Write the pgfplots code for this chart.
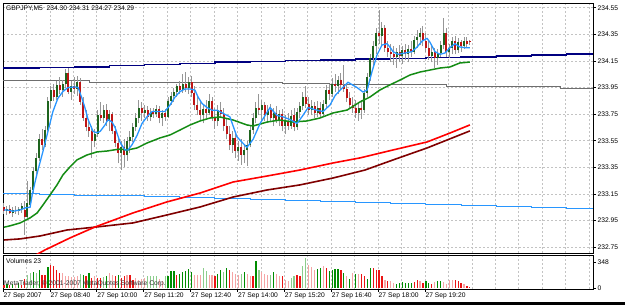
\documentclass[border=0pt]{standalone}
\usepackage{pgfplots}
\pgfplotsset{compat=1.18}
\usepackage{pgfplotstable}
\usepackage{fontspec}
\setmainfont{Liberation Sans}
\definecolor{bull}{RGB}{30,100,30}
\definecolor{bear}{RGB}{190,20,20}
\definecolor{wick}{RGB}{150,150,150}
\definecolor{fastblue}{RGB}{40,150,255}
\definecolor{slowgreen}{RGB}{20,140,20}
\definecolor{mared}{RGB}{255,0,0}
\definecolor{madark}{RGB}{128,0,0}
\definecolor{navyline}{RGB}{0,0,128}
\definecolor{grayline}{RGB}{110,110,110}
\definecolor{hblue}{RGB}{40,150,255}
\definecolor{gridc}{RGB}{195,195,195}
\definecolor{vgreen}{RGB}{0,140,0}
\definecolor{vlgreen}{RGB}{140,205,140}
\definecolor{vred}{RGB}{235,20,20}
\definecolor{vpink}{RGB}{245,165,165}
\newcommand{\mtfont}{\fontsize{6.7}{7.5}\selectfont}

\pgfplotstableread{
i o h l c
0 233.05 233.08 233.00 233.02
1 233.02 233.06 232.99 233.04
2 233.04 233.07 233.00 233.01
3 233.01 233.05 232.98 233.03
4 233.03 233.06 233.00 233.02
5 233.02 233.05 232.99 233.04
6 233.04 233.08 233.01 233.06
7 233.03 233.10 232.84 232.98
8 232.98 233.25 232.97 233.08
9 233.07 233.20 233.05 233.18
10 233.18 233.35 233.16 233.32
11 233.32 233.46 233.28 233.42
12 233.42 233.60 233.40 233.56
13 233.56 233.64 233.48 233.52
14 233.52 233.66 233.50 233.63
15 233.63 233.88 233.60 233.85
16 233.85 233.96 233.80 233.93
17 233.93 233.98 233.85 233.88
18 233.88 234.00 233.86 233.97
19 233.97 234.03 233.90 233.93
20 233.93 234.01 233.88 233.98
21 233.98 234.09 233.95 234.06
22 234.06 234.10 233.90 233.92
23 233.92 234.00 233.86 233.96
24 233.96 234.03 233.90 233.94
25 233.94 234.04 233.89 233.99
26 233.99 234.02 233.82 233.84
27 233.84 233.88 233.70 233.72
28 233.72 233.78 233.62 233.65
29 233.65 233.71 233.58 233.62
30 233.62 233.66 233.42 233.55
31 233.55 233.64 233.50 233.60
32 233.60 233.78 233.58 233.74
33 233.74 233.84 233.70 233.72
34 233.72 233.82 233.68 233.78
35 233.78 233.83 233.66 233.70
36 233.70 233.78 233.62 233.75
37 233.75 233.77 233.60 233.62
38 233.62 233.66 233.50 233.53
39 233.53 233.58 233.38 233.46
40 233.46 233.55 233.33 233.50
41 233.50 233.56 233.35 233.44
42 233.44 233.58 233.40 233.55
43 233.55 233.62 233.46 233.58
44 233.58 233.68 233.54 233.65
45 233.65 233.76 233.62 233.72
46 233.72 233.86 233.68 233.80
47 233.80 233.84 233.70 233.76
48 233.76 233.82 233.72 233.78
49 233.78 233.81 233.70 233.73
50 233.73 233.80 233.70 233.77
51 233.77 233.80 233.72 233.75
52 233.75 233.82 233.73 233.79
53 233.79 233.81 233.68 233.72
54 233.72 233.78 233.66 233.76
55 233.76 233.79 233.70 233.73
56 233.73 233.88 233.72 233.85
57 233.85 233.92 233.82 233.89
58 233.89 233.95 233.84 233.92
59 233.92 233.98 233.88 233.96
60 233.96 234.00 233.90 233.93
61 233.93 234.05 233.91 233.98
62 233.98 234.07 233.92 233.95
63 233.95 234.03 233.90 233.99
64 233.99 234.04 233.88 233.91
65 233.91 233.96 233.78 233.82
66 233.82 233.88 233.74 233.78
67 233.78 233.84 233.70 233.74
68 233.74 233.82 233.68 233.79
69 233.79 233.86 233.72 233.76
70 233.76 233.90 233.74 233.85
71 233.85 233.88 233.70 233.73
72 233.73 233.80 233.64 233.70
73 233.70 233.82 233.66 233.78
74 233.78 233.84 233.72 233.75
75 233.75 233.80 233.62 233.66
76 233.66 233.72 233.56 233.60
77 233.60 233.66 233.48 233.52
78 233.52 233.62 233.46 233.57
79 233.57 233.60 233.42 233.47
80 233.47 233.55 233.40 233.50
81 233.50 233.56 233.37 233.44
82 233.44 233.52 233.38 233.48
83 233.48 233.55 233.36 233.52
84 233.52 233.66 233.50 233.63
85 233.63 233.76 233.60 233.72
86 233.72 233.84 233.68 233.80
87 233.80 233.90 233.74 233.78
88 233.78 233.86 233.70 233.82
89 233.82 233.84 233.70 233.74
90 233.74 233.82 233.68 233.78
91 233.78 233.83 233.69 233.72
92 233.72 233.80 233.66 233.76
93 233.76 233.81 233.68 233.70
94 233.70 233.78 233.66 233.75
95 233.75 233.79 233.62 233.66
96 233.66 233.74 233.60 233.70
97 233.70 233.76 233.63 233.66
98 233.66 233.78 233.64 233.74
99 233.74 233.80 233.62 233.65
100 233.65 233.80 233.63 233.77
101 233.77 233.84 233.72 233.81
102 233.81 233.92 233.78 233.88
103 233.88 233.96 233.80 233.83
104 233.83 233.88 233.74 233.78
105 233.78 233.86 233.74 233.81
106 233.81 233.84 233.72 233.76
107 233.76 233.85 233.73 233.80
108 233.80 233.84 233.72 233.75
109 233.75 233.86 233.73 233.83
110 233.83 233.97 233.80 233.93
111 233.93 233.98 233.86 233.90
112 233.90 234.02 233.88 233.98
113 233.98 234.05 233.92 233.96
114 233.96 234.04 233.90 234.01
115 234.01 234.06 233.94 233.97
116 233.97 234.12 233.92 233.94
117 233.94 233.98 233.84 233.87
118 233.87 233.92 233.79 233.82
119 233.82 233.88 233.76 233.80
120 233.80 233.86 233.72 233.76
121 233.76 233.84 233.70 233.80
122 233.80 233.86 233.71 233.78
123 233.78 233.94 233.76 233.91
124 233.91 234.06 233.88 234.03
125 234.03 234.20 234.00 234.17
126 234.17 234.30 234.12 234.26
127 234.26 234.40 234.20 234.36
128 234.36 234.53 234.28 234.34
129 234.34 234.44 234.26 234.40
130 234.40 234.42 234.22 234.25
131 234.25 234.30 234.18 234.22
132 234.22 234.28 234.14 234.20
133 234.20 234.26 234.12 234.18
134 234.18 234.25 234.10 234.22
135 234.22 234.27 234.14 234.19
136 234.19 234.26 234.13 234.23
137 234.23 234.28 234.16 234.20
138 234.20 234.27 234.14 234.24
139 234.24 234.30 234.18 234.22
140 234.22 234.34 234.20 234.31
141 234.31 234.38 234.25 234.33
142 234.33 234.40 234.27 234.36
143 234.36 234.41 234.26 234.30
144 234.30 234.36 234.22 234.25
145 234.25 234.30 234.16 234.19
146 234.19 234.26 234.14 234.22
147 234.22 234.25 234.10 234.17
148 234.17 234.24 234.12 234.21
149 234.21 234.30 234.18 234.27
150 234.27 234.47 234.24 234.36
151 234.36 234.40 234.18 234.22
152 234.22 234.28 234.17 234.25
153 234.25 234.33 234.20 234.30
154 234.30 234.34 234.20 234.23
155 234.23 234.32 234.21 234.29
156 234.29 234.31 234.22 234.26
157 234.26 234.33 234.24 234.30
158 234.30 234.33 234.25 234.28
159 234.30 234.31 234.27 234.29
}\candles

\pgfplotstableread{
i p
0 233.03
1 233.03
3.1 233.02
5.5 233.03
7.2 233.045
8.9 233.05
9.6 233.14
10.6 233.24
11.6 233.33
13.3 233.47
15 233.62
16.7 233.77
18.4 233.87
20.1 233.92
21.8 233.95
24.2 233.955
25.3 233.95
26.6 233.87
27.6 233.80
28.7 233.71
30.4 233.62
31.7 233.61
32.8 233.62
34.5 233.67
35.5 233.71
36.9 233.69
37.9 233.65
39.6 233.54
41.3 233.48
42.3 233.48
43.7 233.52
45.4 233.59
47.1 233.68
48.8 233.73
50.5 233.77
52.2 233.77
54.9 233.77
56.7 233.82
58.4 233.88
60.1 233.92
61.8 233.94
63.5 233.94
65.2 233.93
66.2 233.88
67.6 233.83
69.3 233.80
71 233.78
72.7 233.78
74.4 233.76
77.1 233.73
79.5 233.58
82.9 233.50
85 233.56
87.4 233.68
90.8 233.80
93.2 233.74
95.2 233.73
97.6 233.71
100 233.68
102 233.74
103.8 233.80
106.8 233.78
108.9 233.77
111.3 233.82
113 233.89
114.7 233.93
117.4 233.99
120.5 233.95
122.5 233.917
123.9 233.93
125.6 234.07
127.3 234.195
129 234.27
130.7 234.28
131.7 234.255
132.8 234.22
134.5 234.20
136.9 234.21
139.2 234.22
141 234.255
142.7 234.30
144.4 234.32
145.4 234.29
147.1 234.22
148.8 234.20
150.5 234.21
152.2 234.25
153.9 234.28
155.6 234.255
157.3 234.25
159 234.25
}\mafast

\pgfplotstableread{
i p
0 232.90
2 232.91
5.5 232.932
8.9 232.97
11.3 233.007
13.3 233.067
15.7 233.142
18.1 233.218
20.1 233.293
22.5 233.353
24.9 233.406
28.3 233.443
31.7 233.466
35.2 233.473
37.2 233.48
39.6 233.488
42 233.48
45.4 233.496
48.8 233.533
53.2 233.571
56.7 233.594
60.1 233.631
63.5 233.669
66.9 233.699
70.3 233.721
73.7 233.729
78.2 233.706
82.9 233.669
85 233.661
89.8 233.691
94.2 233.706
98.6 233.691
103.4 233.699
107.8 233.721
112.3 233.759
117.1 233.781
121.5 233.842
124.9 233.879
128.3 233.932
131.7 233.97
135.2 234.007
138.6 234.045
142 234.067
145.4 234.082
148.8 234.097
152.2 234.105
155.6 234.135
159 234.142
}\mamid

\pgfplotstableread{
i p
0 232.56
14 232.729
22.5 232.819
31.1 232.902
44 233.007
55.6 233.09
66.9 233.157
78.2 233.24
89.8 233.285
101 233.33
112.3 233.383
121.5 233.421
132.8 233.481
144.4 233.541
152.2 233.608
159 233.669
}\maslow

\pgfplotstableread{
i p
0 232.804
5.5 232.812
12.3 232.834
21.5 232.879
31.7 232.902
44 232.932
55.6 232.992
66.9 233.052
78.2 233.127
89.8 233.18
101 233.218
112.3 233.27
123.2 233.33
132.8 233.406
144.4 233.496
159 233.624
}\maslowest

\pgfplotstableread{
i p
-0.34 233.150
12 233.145
24 233.140
36 233.135
48 233.128
60 233.122
72 233.115
84 233.108
96 233.100
108 233.093
120 233.086
132 233.078
144 233.070
156 233.063
168 233.056
180 233.048
192 233.040
201.02 233.040
}\hourblue

\pgfplotstableread{
i p
-0.34 234.097
12 234.100
24 234.105
36 234.115
48 234.124
60 234.133
72 234.142
84 234.146
96 234.152
108 234.158
120 234.164
132 234.170
144 234.175
156 234.180
168 234.186
180 234.194
192 234.202
201.02 234.202
}\hournavy

\pgfplotstableread{
i p
-0.34 234.000
29 233.992
77 233.985
95 233.978
111 233.970
151 233.962
172 233.955
190 233.947
201.02 233.947
}\hourgray

\pgfplotstableread{
i v k
0 45 2
1 60 0
2 40 2
3 55 0
4 50 3
5 65 0
6 45 2
7 120 2
8 178 1
9 200 1
10 215 0
11 200 1
12 236 0
13 178 2
14 178 2
15 281 0
16 312 2
17 300 2
18 245 2
19 200 2
20 200 3
21 165 3
22 156 3
23 147 3
24 147 3
25 156 3
26 192 1
27 178 0
28 156 2
29 200 0
30 134 2
31 156 3
32 134 2
33 134 2
34 147 1
35 156 0
36 200 3
37 178 3
38 165 2
39 178 0
40 134 2
41 156 2
42 178 3
43 178 2
44 111 2
45 134 3
46 111 3
47 120 3
48 134 3
49 156 1
50 156 1
51 165 1
52 165 1
53 120 3
54 89 3
55 156 1
56 156 0
57 223 0
58 223 0
59 178 2
60 192 0
61 210 0
62 223 0
63 254 0
64 210 0
65 178 3
66 178 3
67 178 3
68 268 1
69 223 1
70 178 3
71 178 3
72 165 2
73 192 0
74 245 0
75 210 1
76 268 0
77 236 2
78 210 3
79 192 3
80 178 3
81 192 1
82 210 0
83 192 3
84 165 3
85 156 2
86 357 0
87 236 1
88 210 3
89 192 3
90 178 3
91 178 1
92 210 0
93 192 3
94 165 3
95 156 2
96 103 3
97 89 3
98 134 1
99 156 1
100 178 2
101 156 2
102 290 1
103 401 1
104 312 3
105 281 3
106 245 3
107 254 0
108 272 0
109 290 3
110 268 2
111 232 0
112 245 0
113 254 0
114 254 0
115 241 2
116 200 0
117 160 3
118 120 0
119 205 3
120 192 0
121 192 3
122 183 2
123 156 2
124 120 0
125 268 0
126 268 2
127 236 2
128 236 2
129 156 2
130 103 3
131 98 2
132 89 3
133 67 3
134 53 0
135 67 0
136 76 0
137 71 0
138 62 0
139 67 0
140 80 2
141 103 2
142 89 3
143 67 2
144 94 0
145 62 0
146 58 2
147 76 3
148 94 0
149 98 0
150 85 3
151 53 3
152 107 3
153 111 3
154 111 2
155 94 2
156 71 2
157 58 3
158 22 2
159 13 2
}\vol

\begin{document}
\begin{tikzpicture}
\path[use as bounding box, fill=white] (0,0) rectangle (625pt,-305pt);
\fill[black] (0,-301.5pt) rectangle (625pt,-305pt);

\begin{axis}[
  at={(3pt,-3pt)}, anchor=north west,
  scale only axis, width=590pt, height=250pt,
  xmin=-0.34, xmax=201.02, ymin=232.706, ymax=234.586,
  axis line style={black, line width=0.8pt},
  xtick={-0.34,7.66,...,200}, xticklabels={}, x tick style={draw=none},
  ytick={232.75,232.95,233.15,233.35,233.55,233.75,233.95,234.15,234.35,234.55},
  xmajorgrids, ymajorgrids,
  major grid style={gridc, dash pattern=on 2pt off 2pt, line width=0.6pt},
  ytick pos=right, yticklabel pos=right, tick align=outside,
  major tick length=3pt, y tick style={black, line width=0.6pt},
  yticklabel style={font=\mtfont, inner sep=1pt, xshift=0.5pt},
  /pgf/number format/.cd, fixed, fixed zerofill, precision=2, assume math mode=true,
]
\addplot[const plot, hblue, line width=1pt] table[x=i,y=p]{\hourblue};
\addplot[const plot, grayline, line width=0.9pt] table[x=i,y=p]{\hourgray};
\addplot[const plot, navyline, line width=1.4pt] table[x=i,y=p]{\hournavy};
\addplot[madark, line width=1.6pt] table[x=i,y=p]{\maslowest};
\addplot[mared, line width=1.6pt] table[x=i,y=p]{\maslow};
% wicks
\addplot[draw=wick, line width=1pt, mark=none,
  quiver={u=0, v={\thisrow{h}-\thisrow{l}}}]
  table[x=i, y=l]{\candles};
% bull bodies
\addplot[draw=bull, line width=2pt, mark=none,
  restrict expr to domain={\thisrow{c}-\thisrow{o}}{-0.001:10},
  quiver={u=0, v={\thisrow{c}-\thisrow{o}}}]
  table[x=i, y=o]{\candles};
% bear bodies
\addplot[draw=bear, line width=2pt, mark=none,
  restrict expr to domain={\thisrow{o}-\thisrow{c}}{0.001:10},
  quiver={u=0, v={\thisrow{c}-\thisrow{o}}}]
  table[x=i, y=o]{\candles};
\addplot[slowgreen, line width=1.5pt] table[x=i,y=p]{\mamid};
\addplot[fastblue, line width=1.3pt] table[x=i,y=p]{\mafast};
\node[anchor=north west, font=\mtfont, inner sep=0pt] at (rel axis cs:0,1) [xshift=3pt, yshift=-3pt] {GBPJPY,M5\ \ 234.30 234.31 234.27 234.29};
\node[anchor=west, fill=black, text=white, font=\mtfont, inner sep=1pt] at (axis cs:201.02,234.29) [xshift=2pt] {234.29};
\end{axis}

\begin{axis}[
  at={(3pt,-255pt)}, anchor=north west,
  scale only axis, width=590pt, height=34pt,
  xmin=-0.34, xmax=201.02, ymin=-13.4, ymax=441.7,
  axis line style={black, line width=0.8pt},
  xtick={-0.34,15.66,31.66,47.66,63.66,79.66,95.66,111.66,127.66,143.66},
  xticklabels={27 Sep 2007,27 Sep 08:40,27 Sep 10:00,27 Sep 11:20,27 Sep 12:40,27 Sep 14:00,27 Sep 15:20,27 Sep 16:40,27 Sep 18:00,27 Sep 19:20},
  minor xtick={-0.34,7.66,...,200},
  xminorgrids,
  minor grid style={gridc, dash pattern=on 2pt off 2pt, line width=0.6pt},
  minor tick length=0pt,
  xtick pos=bottom, ytick pos=right, yticklabel pos=right, tick align=outside,
  major tick length=3pt, tick style={black, line width=0.6pt},
  ytick={0,348},
  xticklabel style={font=\mtfont, anchor=north west, inner sep=1pt, xshift=-0.5pt},
  yticklabel style={font=\mtfont, inner sep=1pt, xshift=0.5pt},
  /pgf/number format/assume math mode=true,
]
\addplot[ycomb, draw=vgreen, line width=1.2pt, mark=none, restrict expr to domain={\thisrow{k}}{-0.5:0.5}] table[x=i,y=v]{\vol};
\addplot[ycomb, draw=vlgreen, line width=1.2pt, mark=none, restrict expr to domain={\thisrow{k}}{0.5:1.5}] table[x=i,y=v]{\vol};
\addplot[ycomb, draw=vred, line width=1.2pt, mark=none, restrict expr to domain={\thisrow{k}}{1.5:2.5}] table[x=i,y=v]{\vol};
\addplot[ycomb, draw=vpink, line width=1.2pt, mark=none, restrict expr to domain={\thisrow{k}}{2.5:3.5}] table[x=i,y=v]{\vol};
\node[anchor=north west, font=\mtfont, inner sep=0pt] at (rel axis cs:0,1) [xshift=3pt, yshift=-3pt] {Volumes 23};
\node[anchor=south west, font=\mtfont, inner sep=0pt, text=black!80] at (rel axis cs:0,0) [xshift=1pt, yshift=1.5pt] {MetaTrader, © 2001-2007 MetaQuotes Software Corp.};
\end{axis}
\end{tikzpicture}
\end{document}
